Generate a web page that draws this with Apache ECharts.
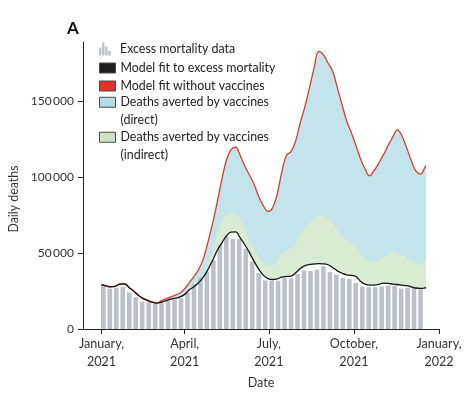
<!DOCTYPE html>
<html><head><meta charset="utf-8">
<script src="https://cdn.jsdelivr.net/npm/echarts@6/dist/echarts.min.js"></script>
<style>html,body{margin:0;padding:0;background:#fff}#c{width:473px;height:397px}</style>
</head><body><div id="c"></div>
<script>
// ---- data ----
const barDates = ['2021-01-03','2021-01-10','2021-01-17','2021-01-24','2021-01-31','2021-02-07','2021-02-14','2021-02-21','2021-02-28','2021-03-07',
  '2021-03-14','2021-03-21','2021-03-28','2021-04-04','2021-04-11','2021-04-18','2021-04-25','2021-05-02','2021-05-09','2021-05-16',
  '2021-05-23','2021-05-30','2021-06-06','2021-06-13','2021-06-20','2021-06-27','2021-07-04','2021-07-11','2021-07-18','2021-07-25',
  '2021-08-01','2021-08-08','2021-08-15','2021-08-22','2021-08-29','2021-09-05','2021-09-12','2021-09-19','2021-09-26','2021-10-03',
  '2021-10-10','2021-10-17','2021-10-24','2021-10-31','2021-11-07','2021-11-14','2021-11-21','2021-11-28','2021-12-05','2021-12-12'];
const excessMortality = [29000,26600,27000,27600,24100,20900,18000,17600,17100,18000,
  18900,19500,20400,24100,29600,34200,37500,45200,55700,61200,
  59200,59200,52900,44500,36800,32000,31800,31800,33800,33400,
  36400,38600,38200,39100,41300,37500,35800,33800,32900,30300,
  28100,27600,27600,28100,28600,28600,26600,27200,27200,26300];

const curveDates = ['2021-01-01','2021-01-06','2021-01-11','2021-01-16','2021-01-21','2021-01-26','2021-01-31','2021-02-05','2021-02-10','2021-02-15',
  '2021-02-20','2021-02-25','2021-03-02','2021-03-07','2021-03-12','2021-03-17','2021-03-22','2021-03-27','2021-04-01','2021-04-06',
  '2021-04-11','2021-04-16','2021-04-21','2021-04-26','2021-05-01','2021-05-06','2021-05-11','2021-05-16','2021-05-21','2021-05-26',
  '2021-05-31','2021-06-05','2021-06-10','2021-06-15','2021-06-20','2021-06-25','2021-06-30','2021-07-05','2021-07-10','2021-07-15',
  '2021-07-20','2021-07-25','2021-07-30','2021-08-04','2021-08-09','2021-08-14','2021-08-19','2021-08-24','2021-08-29','2021-09-03',
  '2021-09-08','2021-09-13','2021-09-18','2021-09-23','2021-09-28','2021-10-03','2021-10-08','2021-10-13','2021-10-18','2021-10-23',
  '2021-10-28','2021-11-02','2021-11-07','2021-11-12','2021-11-17','2021-11-22','2021-11-27','2021-12-02','2021-12-07','2021-12-12',
  '2021-12-17','2021-12-18'];
const fitWithVaccines = [29200,28300,27800,28100,29500,29600,27200,24900,22000,20000,
  18700,17600,17100,17700,18700,19600,20300,21100,22800,25800,
  27800,30500,34000,39000,45000,51500,56500,61200,63800,64000,
  60000,55500,50300,44500,39500,35500,33200,32600,33000,34200,
  34600,34900,37000,39800,41700,42500,42800,43000,42900,42300,
  40500,38300,36800,35700,35300,34600,31500,29500,28900,28900,
  29400,30200,30000,29600,29300,28900,28500,27800,27000,26700,
  27100,27300];
const fitWithoutVaccines = [29200,28500,27900,28300,29700,29900,27200,25000,22200,20300,
  19000,17800,17200,18700,20000,21200,22300,23700,26500,30500,
  34500,39100,46000,57000,69000,83000,98000,111000,118000,119700,
  114300,107300,101400,95400,87200,81300,77400,79700,88900,103300,
  114300,116800,123900,135900,146400,159100,172100,182800,180500,175200,
  169700,159000,148100,137300,129600,121200,112300,105500,100800,104400,
  109400,114800,120900,126400,131100,127100,119300,111000,104000,102000,
  106700,107700];
// upper edge of the "indirect" band (fit with vaccines + indirectly averted deaths)
const indirectUpper = [29200,28300,27800,28100,29500,29600,27200,24900,22000,20000,
  18700,17600,17100,17700,18700,19600,20300,21100,22800,25800,
  28200,31000,35500,42000,51000,62000,70500,75000,76000,75500,
  72000,66500,58500,53000,47500,43500,42000,41800,45000,49500,
  51500,53000,55500,62500,66500,69800,72500,75300,74300,72500,
  69500,65500,61500,58800,56800,54500,50000,46500,44300,43900,
  46000,47300,49300,50700,49800,48500,47000,45200,43200,42500,
  44800,45200];

const xTickDates = ['2021-01-01','2021-04-01','2021-07-01','2021-10-01','2022-01-01'];
const xTickLabels = ['January,\n2021','April,\n2021','July,\n2021','October,\n2021','January,\n2022'];
const yTickValues = [0,50000,100000,150000];
const yTickLabels = ['0','50\u2009000','100\u2009000','150\u2009000'];

// ---- chart ----
const FONT = 'Lato';
const utc = s => Date.UTC(+s.slice(0,4), +s.slice(5,7)-1, +s.slice(8,10));
const pairs = (dates, vals) => dates.map((d,i) => [utc(d), vals[i]]);
const xTickVals = xTickDates.map(utc);

const C = {
  bar:'#bac1c8', direct:'#c3e4ea', indirect:'#d9ebd2', red:'#dc3a2e', black:'#151515',
  legDirect:'#b3dce6', legIndirect:'#cde3c3'
};
const NAMES = {
  bar:'Excess mortality data', fit:'Model fit to excess mortality', nov:'Model fit without vaccines',
  dir:'Deaths averted by vaccines (direct)', ind:'Deaths averted by vaccines (indirect)'
};
const txt = {fontFamily:FONT, fontSize:12.4, color:'#222', lineHeight:17.5};
const barIcon = 'path://M0,5H2.4V13H0Z M3.1,0H5.5V13H3.1Z M6.2,4H8.6V13H6.2Z M9.3,8.5H11.7V13H9.3Z M16,13';
const twoLineIcon = 'path://M0,0H16V10H0Z M0,27';
function leg(name, icon, color, top, h, extra) {
  return {
    left: 99, top: top, padding: 0, itemGap: 0, itemWidth: 16, itemHeight: h,
    selectedMode: false, textStyle: txt,
    formatter: n => n.replace(' (', '\n('),
    data: [{name: name, icon: icon, itemStyle: Object.assign({color: color, borderColor:'#4a4a4a', borderWidth: 1}, extra || {})}]
  };
}

const chart = echarts.init(document.getElementById('c'), null, {renderer:'canvas'});
chart.setOption({
  animation: false,
  backgroundColor: '#fff',
  title: {text:'A', left: 62, top: 15, textStyle:{fontFamily:FONT, fontSize:17, fontWeight:'bold', color:'#111'}},
  legend: [
    leg(NAMES.bar, barIcon, C.bar, 49-8.75, 13, {borderWidth:0}),
    leg(NAMES.fit, 'rect', '#1e1e1e', 68-8.75, 10),
    leg(NAMES.nov, 'rect', '#e8302a', 86-8.75, 10),
    leg(NAMES.dir, twoLineIcon, C.legDirect, 102-8.75, 27),
    leg(NAMES.ind, twoLineIcon, C.legIndirect, 137-8.75, 27)
  ],
  grid: {left: 83, right: 34, top: 42, bottom: 68, outerBoundsMode: 'none', containLabel: false},
  xAxis: {
    type: 'value', min: utc('2020-12-12'), max: utc('2022-01-01'),
    splitLine: {show:false},
    axisLine: {show:true, lineStyle:{color:'#222', width:1}},
    axisTick: {show:true, length:5, customValues: xTickVals, lineStyle:{color:'#222', width:1}},
    axisLabel: {customValues: xTickVals, formatter: v => xTickLabels[xTickVals.indexOf(v)] || '',
      margin: 6, fontFamily: FONT, fontSize: 12.6, color:'#333', lineHeight: 18, hideOverlap:false},
    name: 'Date', nameLocation: 'middle', nameGap: 47,
    nameTextStyle: {fontFamily: FONT, fontSize: 12.6, color:'#333'}
  },
  yAxis: {
    type: 'value', min: 0, max: 189000, interval: 50000,
    splitLine: {show:false},
    axisLine: {show:true, lineStyle:{color:'#222', width:1}},
    axisTick: {show:true, length:5, customValues: yTickValues, lineStyle:{color:'#222', width:1}},
    axisLabel: {customValues: yTickValues, formatter: v => yTickLabels[yTickValues.indexOf(v)] || '',
      margin: 9, fontFamily: FONT, fontSize: 12, color:'#333'},
    name: 'Daily deaths', nameLocation: 'middle', nameGap: 54,
    nameTextStyle: {fontFamily: FONT, fontSize: 12.4, color:'#333', padding: [0, 27, 0, 0]}
  },
  series: [
    {name: NAMES.dir, type:'line', data: pairs(curveDates, fitWithoutVaccines), smooth: 0.4, symbol:'none',
      lineStyle:{width:0, color: C.direct}, itemStyle:{color:C.direct}, areaStyle:{color:C.direct, opacity:1}, z:1, silent:true},
    {name: NAMES.ind, type:'line', data: pairs(curveDates, indirectUpper), smooth: 0.4, symbol:'none',
      lineStyle:{width:0, color: C.indirect}, itemStyle:{color:C.indirect}, areaStyle:{color:C.indirect, opacity:1}, z:1, silent:true},
    {name: 'fit-fill', type:'line', data: pairs(curveDates, fitWithVaccines), smooth: 0.4, symbol:'none',
      lineStyle:{width:0, color:'#fff'}, areaStyle:{color:'#fff', opacity:1}, z:1, silent:true},
    {name: NAMES.bar, type:'bar', data: pairs(barDates, excessMortality), barWidth: 4.6,
      itemStyle:{color: C.bar}, z:2, silent:true},
    {name: NAMES.nov, type:'line', data: pairs(curveDates, fitWithoutVaccines), smooth: 0.4, symbol:'none',
      lineStyle:{width:1.3, color: C.red}, itemStyle:{color:C.red}, z:3, silent:true},
    {name: NAMES.fit, type:'line', data: pairs(curveDates, fitWithVaccines), smooth: 0.4, symbol:'none',
      lineStyle:{width:1.3, color: C.black}, itemStyle:{color:C.black}, z:3, silent:true}
  ]
});
</script></body></html>
